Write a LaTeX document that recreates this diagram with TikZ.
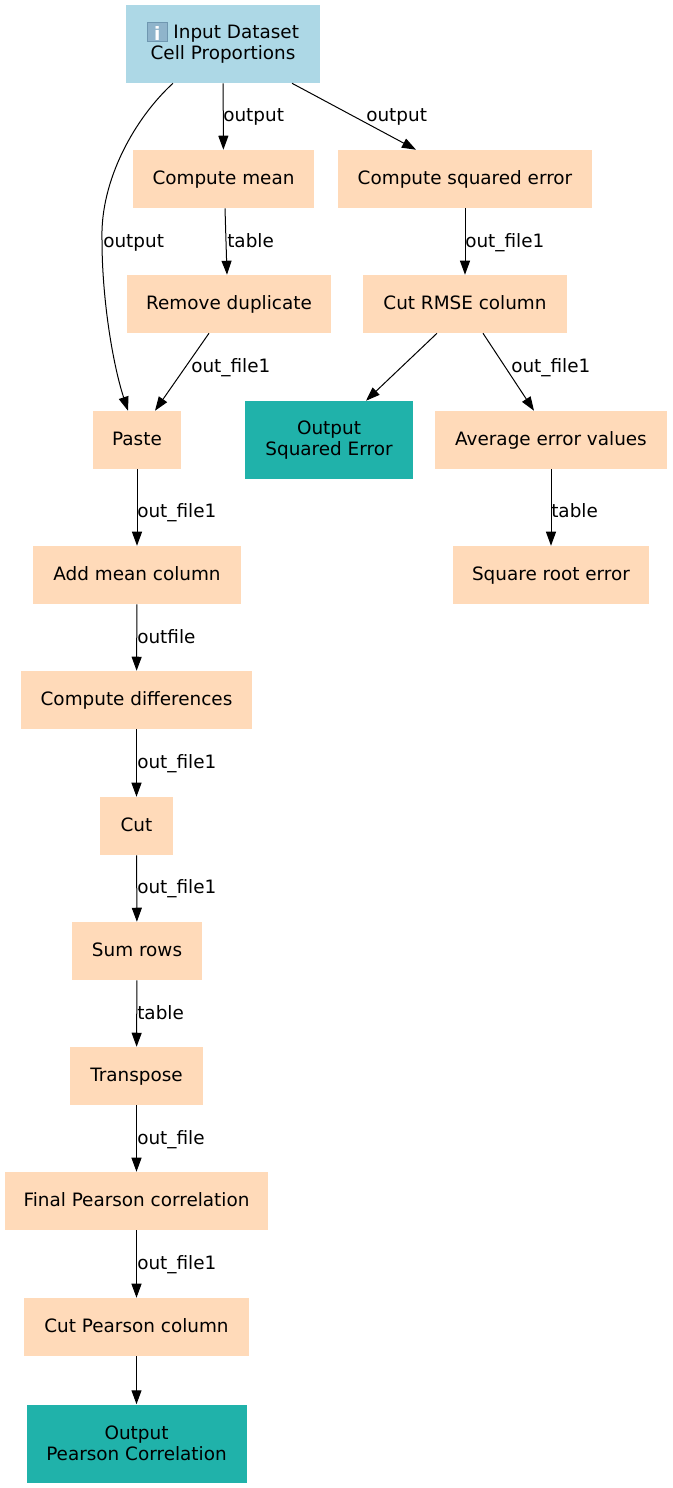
\documentclass[tikz,border=0pt]{standalone}
\usepackage{fontspec}
\setmainfont{DejaVu Sans}
\usetikzlibrary{arrows.meta, calc}
\definecolor{inputblue}{HTML}{ADD8E6}
\definecolor{toolpeach}{HTML}{FFDAB9}
\definecolor{outputteal}{HTML}{20B2AA}
\definecolor{iconblue}{HTML}{8FB4CB}
\definecolor{iconedge}{HTML}{6F97B0}
\newcommand{\infoicon}{\smash{\raisebox{-2.8pt}{\rlap{\textcolor{iconedge}{\rule{15.4pt}{15pt}}}\rlap{\hspace{0.8pt}\raisebox{0.8pt}{\textcolor{iconblue}{\rule{13.8pt}{13.4pt}}}}\hbox to 15.4pt{\hss\raisebox{1.5pt}{\textcolor{white}{\textbf{i}}}\hss}}}}
\tikzset{
    every node/.style = {font=\fontsize{13.8}{15.75}\selectfont},
    block/.style = {rectangle, inner sep=0pt, anchor=center, align=center},
    toolbox/.style = {block, fill=toolpeach, minimum height=43.5pt, text height=10.5pt, text depth=3pt},
    outbox/.style = {block, fill=outputteal, minimum height=58.5pt},
    inbox/.style = {block, fill=inputblue, minimum height=58.5pt},
    edgelabel/.style = {anchor=base west, inner sep=0pt},
    conn/.style = {-{Triangle[length=10.5pt,width=7.5pt]}, line width=0.75pt}
}
\begin{document}
\begin{tikzpicture}[x=0.75pt, y=-0.75pt]
    \useasboundingbox (0,0) rectangle (672,1488);
    \node[inbox, minimum width=145.5pt] (input) at (223,44) {\infoicon{} Input Dataset\\Cell Proportions};
    \foreach \nm/\x/\y/\w/\txt in {
        mean/223.5/179/135.75/Compute mean,
        sqerr/465/179/190.5/Compute squared error,
        rmdup/229/304/153/Remove duplicate,
        cutrmse/465/304/153/Cut RMSE column,
        paste/137/440/66/Paste,
        avg/551/440/174/Average error values,
        sqroot/551/575/147/Square root error,
        addmean/137/575/156/Add mean column,
        compdiff/136.5/700/173.25/Compute differences,
        cutcol/136.5/826/54.75/Cut,
        sumrows/137/951/97.5/Sum rows,
        transp/136.5/1076/99.75/Transpose,
        pearson/136.5/1201/197.25/Final Pearson correlation,
        cutpearson/136.5/1327/168.75/Cut Pearson column}{
        \node[toolbox, minimum width=\w pt] (\nm) at (\x,\y) {\txt};
    }
    \node[outbox, minimum width=126pt] (outsq) at (329,440) {Output\\Squared Error};
    \node[outbox, minimum width=165pt] (outpearson) at (136.5,1443.5) {Output\\Pearson Correlation};
    % connectors
    \draw[conn] ($(input.south)+(-50,0)$) .. controls (135,118) and (100,180) .. (102,240)
        .. controls (102,300) and (113,365) .. ($(paste.north)+(-9,0)$);
    \draw[conn] (input) -- (mean);
    \draw[conn] ($(input.south)+(69,0)$) -- ($(sqerr.north)+(-49,0)$);
    \draw[conn] ($(mean.south)+(1.5,0)$) -- ($(rmdup.north)+(-2,0)$);
    \draw[conn] (sqerr) -- (cutrmse);
    \draw[conn] ($(rmdup.south)+(-20,0)$) -- ($(paste.north)+(18,0)$);
    \draw[conn] ($(cutrmse.south)+(-28,0)$) -- ($(outsq.north)+(37,0)$);
    \draw[conn] ($(cutrmse.south)+(18,0)$) -- ($(avg.north)+(-17,0)$);
    \draw[conn] (avg) -- (sqroot);
    \draw[conn] (paste) -- (addmean);
    \draw[conn] (addmean) -- (compdiff);
    \draw[conn] (compdiff) -- (cutcol);
    \draw[conn] (cutcol) -- (sumrows);
    \draw[conn] (sumrows) -- (transp);
    \draw[conn] (transp) -- (pearson);
    \draw[conn] (pearson) -- (cutpearson);
    \draw[conn] (cutpearson) -- (outpearson);
    % labels
    \node[edgelabel] (Lpaste) at (103,247) {output};
    \node[edgelabel] (Lmean) at (223,121) {output};
    \node[edgelabel] (Lsqerr) at (366,121) {output};
    \node[edgelabel] (Lrmdup) at (227,247) {table};
    \node[edgelabel] (Lcutrmse) at (465,247) {out\_file1};
    \node[edgelabel] (Lpaste2) at (191,372) {out\_file1};
    \node[edgelabel] (Lavg) at (511,372) {out\_file1};
    \node[edgelabel] (Lsqroot) at (551,517) {table};
    \node[edgelabel] (Laddmean) at (137,517) {out\_file1};
    \node[edgelabel] (Lcompdiff) at (137,643) {outfile};
    \node[edgelabel] (Lcutcol) at (137,768) {out\_file1};
    \node[edgelabel] (Lsumrows) at (137,893) {out\_file1};
    \node[edgelabel] (Ltransp) at (137,1019) {table};
    \node[edgelabel] (Lpearson) at (137,1144) {out\_file};
    \node[edgelabel] (Lcutpearson) at (137,1269) {out\_file1};
\end{tikzpicture}
\end{document}
